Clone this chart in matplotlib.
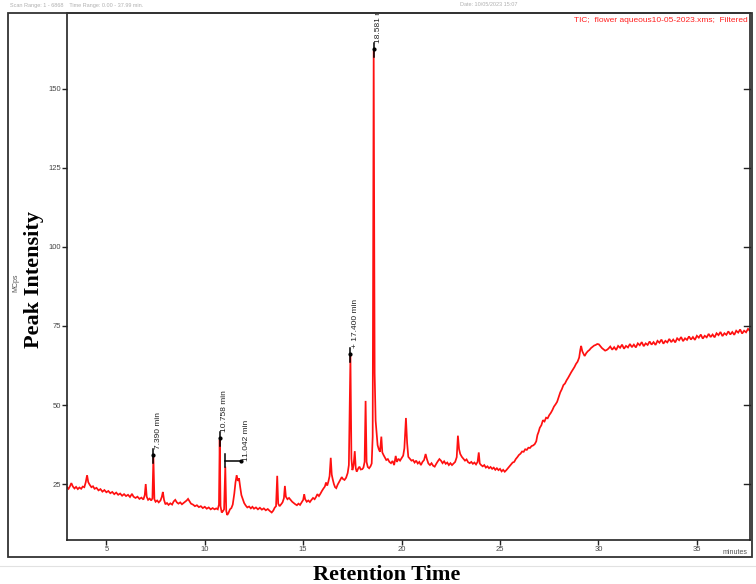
import matplotlib
matplotlib.use("Agg")
import matplotlib.pyplot as plt
from matplotlib.patches import Rectangle
from matplotlib.lines import Line2D
import matplotlib.transforms as mtransforms

# ---------------- data ----------------
time_min = [
 3.00, 3.08, 3.15, 3.22, 3.30, 3.38, 3.46, 3.55, 3.63, 3.72, 3.80, 3.88, 3.95, 4.02, 4.08, 4.15,
 4.24, 4.32, 4.40, 4.50, 4.60, 4.70, 4.80, 4.90, 5.00, 5.10, 5.20, 5.30, 5.40, 5.50, 5.60, 5.70,
 5.80, 5.90, 6.00, 6.10, 6.20, 6.30, 6.38, 6.48, 6.58, 6.68, 6.78, 6.88, 6.95, 7.00, 7.05, 7.12,
 7.20, 7.28, 7.34, 7.39, 7.44, 7.50, 7.58, 7.66, 7.75, 7.82, 7.87, 7.93, 8.00, 8.08, 8.16, 8.25,
 8.34, 8.42, 8.50, 8.58, 8.66, 8.75, 8.84, 8.92, 9.00, 9.08, 9.15, 9.22, 9.30, 9.40, 9.50, 9.60,
 9.70, 9.80, 9.90, 10.00, 10.10, 10.20, 10.30, 10.40, 10.50, 10.58, 10.66, 10.72, 10.758, 10.80,
 10.86, 10.92, 10.98, 11.042, 11.09, 11.14, 11.20, 11.28, 11.35, 11.42, 11.50, 11.56, 11.62,
 11.68, 11.74, 11.80, 11.86, 11.92, 12.00, 12.08, 12.16, 12.25, 12.34, 12.42, 12.50, 12.60,
 12.70, 12.80, 12.90, 13.00, 13.10, 13.20, 13.30, 13.40, 13.48, 13.55, 13.62, 13.68, 13.73,
 13.80, 13.88, 13.95, 14.02, 14.07, 14.12, 14.20, 14.28, 14.36, 14.44, 14.52, 14.60, 14.68,
 14.76, 14.84, 14.92, 15.00, 15.05, 15.10, 15.18, 15.26, 15.34, 15.42, 15.50, 15.58, 15.66,
 15.72, 15.80, 15.88, 15.95, 16.02, 16.10, 16.16, 16.22, 16.28, 16.34, 16.40, 16.45, 16.50,
 16.56, 16.62, 16.68, 16.75, 16.82, 16.90, 16.96, 17.02, 17.10, 17.18, 17.26, 17.32, 17.40,
 17.45, 17.50, 17.56, 17.62, 17.67, 17.72, 17.80, 17.86, 17.92, 18.00, 18.06, 18.12, 18.17,
 18.22, 18.28, 18.35, 18.42, 18.48, 18.53, 18.581, 18.63, 18.68, 18.72, 18.78, 18.84, 18.90,
 18.97, 19.02, 19.08, 19.15, 19.22, 19.30, 19.38, 19.46, 19.54, 19.62, 19.70, 19.76, 19.84,
 19.92, 20.00, 20.08, 20.14, 20.22, 20.28, 20.34, 20.42, 20.50, 20.58, 20.66, 20.74, 20.82,
 20.90, 20.98, 21.06, 21.14, 21.22, 21.28, 21.36, 21.44, 21.52, 21.60, 21.68, 21.76, 21.84,
 21.92, 22.00, 22.08, 22.16, 22.24, 22.32, 22.40, 22.48, 22.56, 22.64, 22.72, 22.80, 22.86,
 22.92, 22.98, 23.06, 23.14, 23.22, 23.30, 23.38, 23.46, 23.54, 23.62, 23.70, 23.78, 23.86,
 23.92, 23.97, 24.04, 24.12, 24.20, 24.28, 24.36, 24.44, 24.52, 24.60, 24.68, 24.76, 24.84,
 24.92, 25.00, 25.08, 25.16, 25.24, 25.32, 25.40, 25.48, 25.56, 25.64, 25.72, 25.80, 25.88,
 25.96, 26.04, 26.12, 26.20, 26.28, 26.36, 26.44, 26.52, 26.60, 26.68, 26.76, 26.84, 26.90,
 26.96, 27.02, 27.10, 27.18, 27.26, 27.34, 27.42, 27.50, 27.58, 27.66, 27.74, 27.82, 27.90,
 27.98, 28.06, 28.14, 28.22, 28.30, 28.38, 28.46, 28.54, 28.62, 28.70, 28.78, 28.86, 28.94,
 29.02, 29.08, 29.12, 29.18, 29.24, 29.30, 29.38, 29.46, 29.54, 29.62, 29.70, 29.78, 29.86,
 29.94, 30.02, 30.10, 30.18, 30.26, 30.34, 30.42, 30.50,
 30.6, 30.7, 30.8, 30.9, 31.0, 31.1, 31.2, 31.3, 31.4, 31.5, 31.6, 31.7, 31.8, 31.9, 32.0,
 32.1, 32.2, 32.3, 32.4, 32.5, 32.6, 32.7, 32.8, 32.9, 33.0, 33.1, 33.2, 33.3, 33.4, 33.5,
 33.6, 33.7, 33.8, 33.9, 34.0, 34.1, 34.2, 34.3, 34.4, 34.5, 34.6, 34.7, 34.8, 34.9, 35.0,
 35.1, 35.2, 35.3, 35.4, 35.5, 35.6, 35.7, 35.8, 35.9, 36.0, 36.1, 36.2, 36.3, 36.4, 36.5,
 36.6, 36.7, 36.8, 36.9, 37.0, 37.1, 37.2, 37.3, 37.4, 37.5, 37.6, 37.7,
]
intensity_mcps = [
 24.0, 23.5, 24.3, 25.3, 24.2, 23.6, 24.1, 23.4, 23.9, 23.5, 24.2, 24.0, 25.5, 27.8, 25.6, 24.8,
 24.0, 24.3, 23.5, 23.8, 23.0, 23.4, 22.6, 23.1, 22.4, 22.8, 22.1, 22.5, 21.8, 22.3, 21.6, 22.0,
 21.3, 21.8, 21.2, 21.6, 20.9, 21.9, 21.0, 20.6, 21.0, 20.3, 20.7, 20.1, 21.5, 25.0, 21.0, 20.0,
 20.4, 19.8, 20.5, 33.5, 20.2, 19.4, 19.8, 19.2, 19.8, 21.0, 22.5, 20.0, 18.6, 19.0, 18.4, 18.9,
 18.5, 19.5, 20.0, 19.2, 18.8, 19.2, 18.6, 19.0, 19.4, 19.8, 20.3, 19.6, 18.8, 18.5, 18.0, 18.3,
 17.7, 18.0, 17.4, 17.8, 17.2, 17.6, 17.0, 17.4, 17.0, 17.3, 17.0, 18.5, 39.0, 18.0,
 16.0, 16.4, 17.0, 30.5, 16.5, 15.2, 15.8, 17.0, 17.4, 18.5, 22.0, 25.5, 27.8,
 26.0, 26.8, 24.0, 21.5, 20.4, 19.0, 18.2, 17.6, 17.9, 17.3, 17.8, 17.2, 17.6,
 17.0, 17.5, 16.9, 17.3, 16.7, 17.1, 16.5, 16.0, 16.6, 17.5, 18.0, 27.6, 18.8,
 18.0, 18.6, 19.2, 20.5, 24.4, 21.0, 20.2, 20.6, 20.0, 19.4, 19.0, 18.6, 18.3,
 18.8, 18.4, 19.2, 20.0, 21.8, 20.2, 19.4, 19.8, 19.3, 20.0, 20.6, 20.2, 21.0,
 21.8, 21.2, 22.0, 22.8, 23.5, 24.2, 25.5, 24.5, 25.8, 27.5, 33.3, 28.0, 26.5,
 25.0, 24.0, 23.7, 24.8, 25.6, 26.5, 27.2, 26.6, 26.3, 27.0, 28.5, 31.0, 65.5,
 33.0, 29.4, 31.0, 35.4, 30.0, 28.9, 30.0, 30.5, 29.6, 29.7, 30.2, 32.0, 51.3,
 32.0, 30.4, 30.0, 30.6, 31.5, 40.0, 162.0, 60.0, 45.0, 42.0, 37.3, 36.0, 35.2,
 40.0, 35.0, 34.2, 33.4, 32.6, 32.9, 32.0, 31.6, 32.3, 31.0, 33.9, 32.0, 33.0,
 32.4, 33.2, 34.0, 36.3, 45.9, 38.0, 33.6, 33.0, 32.4, 32.6, 31.8, 32.4, 31.5,
 32.0, 31.0, 32.0, 32.6, 34.5, 33.0, 31.5, 31.0, 31.6, 30.8, 30.5, 31.4, 32.2,
 32.9, 32.4, 31.6, 32.2, 31.4, 31.8, 31.0, 31.6, 31.0, 31.5, 32.0, 33.5, 40.3,
 36.0, 34.5, 33.6, 33.0, 32.4, 32.8, 31.9, 31.6, 32.0, 31.4, 31.8, 31.2, 32.0,
 35.0, 31.5, 31.0, 30.6, 31.0, 30.2, 30.6, 30.0, 30.4, 29.8, 30.2, 29.5, 30.0,
 29.4, 29.8, 29.0, 29.5, 28.9, 29.4, 30.0, 30.6, 31.2, 31.8, 32.0, 32.9, 33.5,
 34.2, 34.6, 35.3, 35.2, 36.0, 35.8, 36.5, 36.4, 37.0, 37.2, 37.6, 38.5, 40.5,
 41.5, 42.8, 43.6, 45.2, 44.8, 46.0, 45.8, 46.8, 47.5, 48.4, 49.5, 50.2, 51.0,
 52.5, 54.0, 55.0, 56.3, 56.8, 57.8, 58.6, 59.5, 60.4, 61.2, 62.0, 63.0, 63.7,
 65.0, 67.5, 68.7, 67.0, 66.2, 65.5, 66.4, 67.0, 67.4, 68.0, 68.4, 68.8, 69.0,
 69.3, 69.2, 68.6, 68.0, 67.6, 67.2, 67.4, 67.8,
 68.5, 67.5, 68.3, 67.4, 68.7, 68.1, 69.1, 67.8, 68.7, 68.2, 69.3, 68.3, 69.1, 68.2, 69.5,
 68.9, 69.9, 68.6, 69.5, 69.0, 70.1, 69.1, 69.9, 69.0, 70.3, 69.7, 70.7, 69.4, 70.3, 69.8,
 70.9, 69.9, 70.7, 69.8, 71.1, 70.5, 71.5, 70.2, 71.1, 70.6, 71.7, 70.7, 71.5, 70.6, 71.9,
 71.3, 72.3, 71.0, 71.9, 71.4, 72.5, 71.5, 72.3, 71.4, 72.7, 72.1, 73.1, 71.8, 72.7, 72.2,
 73.3, 72.3, 73.1, 72.2, 73.5, 72.9, 73.9, 72.6, 73.5, 73.0, 74.1, 73.4,
]

peak_times = [7.39, 10.758, 11.042, 17.40, 18.581]
peak_labels = ["7.390 min", "10.758 min", "11.042 min", "+ 17.400 min", "18.581 min"]

x_ticks = [5, 10, 15, 20, 25, 30, 35]
y_ticks = [25, 50, 75, 100, 125, 150]

# ---------------- figure ----------------
W, H = 756, 584
fig = plt.figure(figsize=(W / 100, H / 100), dpi=100)
fig.patch.set_facecolor("white")


def fx(x):
    return x / W


def fy(y):
    return 1 - y / H


sans = ["Liberation Sans", "DejaVu Sans"]
serif = ["Liberation Serif", "DejaVu Serif"]

ax = fig.add_axes([fx(67), fy(540), fx(750) - fx(67), fy(13) - fy(540)])
ax.set_xlim(3.0, 37.7)
ax.set_ylim(7.3, 174.0)

ax.plot(time_min, intensity_mcps, color="#ff1010", lw=1.25, solid_joinstyle="miter")

# spines / ticks
for side in ["left", "bottom", "right", "top"]:
    ax.spines[side].set_color("#222222")
    ax.spines[side].set_linewidth(1.2)
ax.set_xticks(x_ticks)
ax.set_yticks(y_ticks)
ax.tick_params(axis="x", direction="out", length=3.5, width=1.0, color="#222222",
               pad=0.5, labelsize=5.5, labelcolor="#444444")
ax.tick_params(axis="y", direction="out", length=3.5, width=1.0, color="#222222",
               pad=0.8, labelsize=5.5, labelcolor="#444444")
for lab in ax.get_xticklabels() + ax.get_yticklabels():
    lab.set_family(sans)

# inward ticks on the right spine
ytrans = ax.get_yaxis_transform()
for v in y_ticks:
    ax.plot([1 - 6 / 683, 1], [v, v], color="#222222", lw=1.0, transform=ytrans,
            clip_on=False)


def off(dx, dy):
    return mtransforms.offset_copy(ax.transData, fig=fig, x=dx, y=dy, units="dots")


px_per_y = 3.16   # pixels per MCps unit
px_per_x = 19.7   # pixels per minute

# peak annotations
for pt, lbl in zip(peak_times, peak_labels):
    apex = max(v for t_, v in zip(time_min, intensity_mcps) if abs(t_ - pt) < 0.01)
    if lbl.startswith("11.042"):
        ax.plot([pt, pt], [apex, apex + 13 / px_per_y], color="k", lw=1.1)
        ax.plot([pt, pt + 16 / px_per_x], [apex + 6 / px_per_y] * 2, color="k", lw=1.1)
        ax.plot([pt + 16 / px_per_x], [apex + 6 / px_per_y], "o", color="k", ms=2)
        ax.text(pt, apex, lbl, rotation=90, ha="center", va="bottom", fontsize=6,
                color="#222222", family=sans, transform=off(21, 6), clip_on=True)
    else:
        ax.plot([pt, pt], [apex - 6 / px_per_y, apex + 8 / px_per_y], color="k", lw=1.1)
        ax.plot([pt], [apex + 2 / px_per_y], "o", color="k", ms=2)
        ax.text(pt, apex, lbl, rotation=90, ha="center", va="bottom", fontsize=6,
                color="#222222", family=sans, transform=off(5, 8), clip_on=True)

# outer frame
fig.patches.append(Rectangle((fx(8), fy(557)), fx(752) - fx(8), fy(13) - fy(557),
                             transform=fig.transFigure, fill=False, lw=1.3,
                             ec="#333333", zorder=5))
# faint separator line under the chart
fig.add_artist(Line2D([0, 1], [fy(566), fy(566)], transform=fig.transFigure,
                      color="#e2e2e2", lw=0.8))

fig.text(fx(748), fy(20), "TIC;  flower aqueous10-05-2023.xms;  Filtered", color="#ff2020",
         fontsize=6, ha="right", va="center", family=sans)
fig.text(fx(10), fy(5), "Scan Range: 1 - 6868    Time Range: 0.00 - 37.99 min.",
         color="#b0b0b0", fontsize=4, ha="left", va="center", family=sans)
fig.text(fx(460), fy(5), "Date: 10/05/2023 15:07", color="#b0b0b0",
         fontsize=4, ha="left", va="center", family=sans)
fig.text(fx(748), fy(552), "minutes", color="#555555", fontsize=5, ha="right", va="center",
         family=sans)
fig.text(fx(16), fy(283), "MCps", color="#555555", fontsize=5, ha="center", va="center",
         rotation=90, family=sans)
fig.text(fx(34), fy(280), "Peak Intensity", fontsize=16, fontweight="bold", ha="center",
         va="center", rotation=90, family=serif)
fig.text(fx(387), fy(575), "Retention Time", fontsize=16, fontweight="bold", ha="center",
         va="center", family=serif)

fig.savefig("out.png", dpi=100)
